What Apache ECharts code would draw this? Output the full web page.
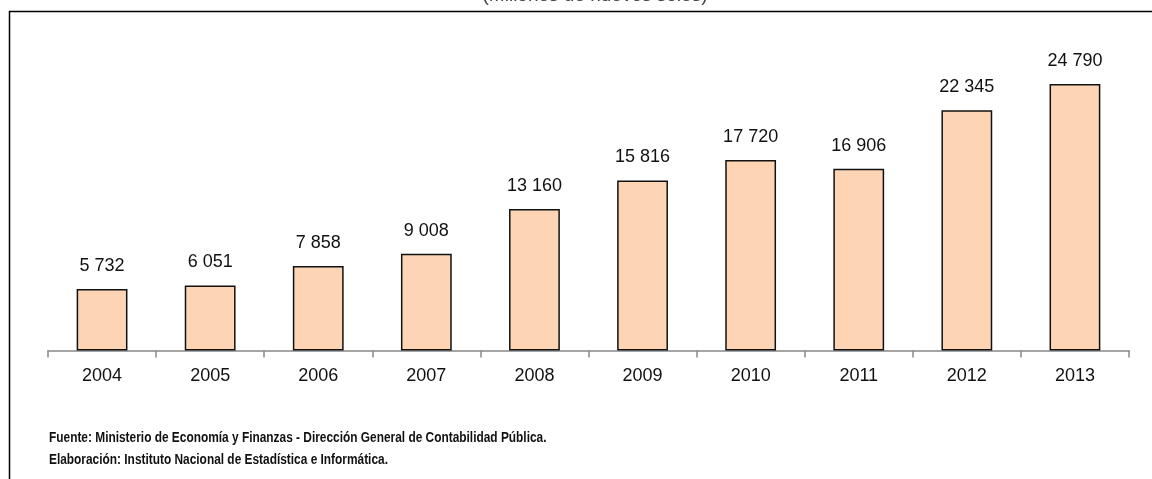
<!DOCTYPE html>
<html>
<head>
<meta charset="utf-8">
<script src="https://cdn.jsdelivr.net/npm/echarts@6/dist/echarts.min.js"></script>
<style>
  html, body { margin: 0; padding: 0; background: #fff; }
  #chart { width: 1152px; height: 479px; }
</style>
</head>
<body>
<div id="chart"></div>
<script>
// años y montos (millones de nuevos soles)
const years = ["2004", "2005", "2006", "2007", "2008", "2009", "2010", "2011", "2012", "2013"];
const amounts = [5732, 6051, 7858, 9008, 13160, 15816, 17720, 16906, 22345, 24790];
const subtitle = "(Millones de nuevos soles)";
const sourceLines = [
  "Fuente: Ministerio de Economía y Finanzas - Dirección General de Contabilidad Pública.",
  "Elaboración: Instituto Nacional de Estadística e Informática."
];

const font = '"Liberation Sans Narrow", "Arial Narrow", "Liberation Sans", Arial, sans-serif';

function fmt(v) {
  return String(v).replace(/\B(?=(\d{3})+(?!\d))/g, " ");
}

const chart = echarts.init(document.getElementById("chart"));

const option = {
  animation: false,
  backgroundColor: "#fff",
  title: {
    text: subtitle,
    left: 590,
    textAlign: "center",
    top: -19,
    textStyle: { fontFamily: font, fontSize: 19, fontWeight: "normal", color: "#444" }
  },
  grid: { left: 48, right: 23, top: 28, bottom: 128.5 },
  xAxis: {
    type: "category",
    data: years,
    axisLine: { lineStyle: { color: "#888", width: 1.5 } },
    axisTick: { show: true, alignWithLabel: false, length: 7, lineStyle: { color: "#888", width: 1.5 } },
    axisLabel: { color: "#111", fontFamily: font, fontSize: 18, margin: 17 }
  },
  yAxis: {
    type: "value",
    min: 0,
    max: 30000,
    show: false,
    splitLine: { show: false }
  },
  series: [
    {
      type: "bar",
      data: amounts,
      barWidth: "47%",
      itemStyle: { color: "#FDD5B4", borderColor: "#111", borderWidth: 1.5 },
      label: {
        show: true,
        position: "top",
        distance: 14,
        color: "#111",
        fontFamily: font,
        fontSize: 18,
        formatter: p => fmt(p.value)
      }
    }
  ],
  graphic: [
    {
      type: "polyline",
      shape: { points: [[9.5, 500], [9.5, 11.5], [1160, 11.5]] },
      style: { stroke: "#000", lineWidth: 1.5, fill: null }
    },
    {
      type: "text",
      x: 49,
      y: 430,
      scaleX: 0.82,
      style: { text: sourceLines[0], font: 'bold 14.5px ' + font, fill: "#111" }
    },
    {
      type: "text",
      x: 49,
      y: 452,
      scaleX: 0.82,
      style: { text: sourceLines[1], font: 'bold 14.5px ' + font, fill: "#111" }
    }
  ]
};

chart.setOption(option);
</script>
</body>
</html>
